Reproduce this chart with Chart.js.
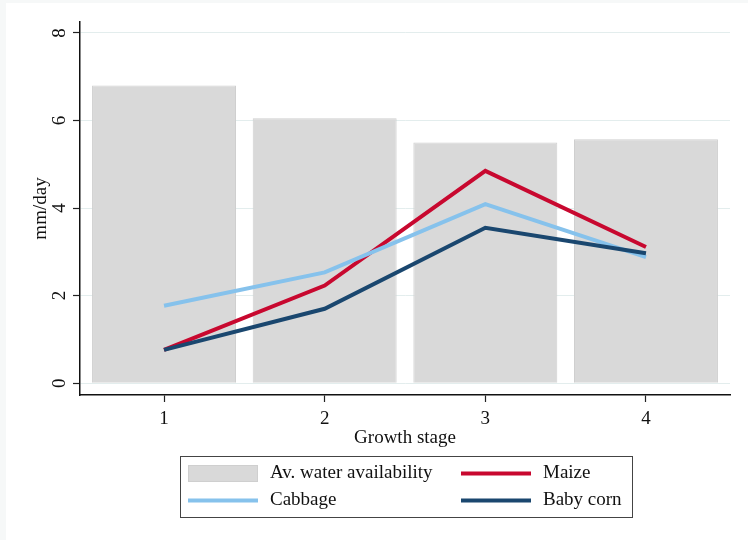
<!DOCTYPE html>
<html>
<head>
<meta charset="utf-8">
<script src="https://cdn.jsdelivr.net/npm/chart.js@4.4.1/dist/chart.umd.min.js"></script>
<style>
  html, body { margin: 0; padding: 0; background: #f6f8f8; }
  #wrap { position: absolute; left: 6px; top: 3px; width: 742px; height: 537px; background: #ffffff; }
  canvas { display: block; }
</style>
</head>
<body>
<div id="wrap"><canvas id="chart" width="742" height="537"></canvas></div>
<script>
// Growth stages and daily water figures (mm/day)
const stages = [1, 2, 3, 4];
const waterAvailability = [6.80, 6.05, 5.50, 5.57];
const maize = [0.76, 2.23, 4.85, 3.11];
const cabbage = [1.77, 2.53, 4.09, 2.88];
const babyCorn = [0.76, 1.70, 3.55, 2.97];
const yTickLabels = [0, 2, 4, 6, 8];

const FONT = '"Liberation Serif", "Times New Roman", serif';
const FONT_SIZE = 19;
const TEXT = '#111111';

const toXY = vals => stages.map((s, i) => ({ x: s, y: vals[i] }));

// Draws the rotated y tick labels, axis titles and the framed two-column key
const decorations = {
  id: 'decorations',
  afterDraw(chart) {
    const ctx = chart.ctx;
    const y = chart.scales.y;
    const area = chart.chartArea;
    ctx.save();
    ctx.fillStyle = TEXT;
    ctx.font = FONT_SIZE + 'px ' + FONT;
    ctx.textAlign = 'center';
    ctx.textBaseline = 'middle';

    // y tick labels, read bottom-to-top
    yTickLabels.forEach(v => {
      ctx.save();
      ctx.translate(54, y.getPixelForValue(v));
      ctx.rotate(-Math.PI / 2);
      ctx.fillText(String(v), 0, 0);
      ctx.restore();
    });

    // y axis title
    ctx.save();
    ctx.translate(35, (area.top + area.bottom) / 2);
    ctx.rotate(-Math.PI / 2);
    ctx.fillText('mm/day', 0, 0);
    ctx.restore();

    // x axis title
    ctx.fillText('Growth stage', (area.left + area.right) / 2, 435);

    // key
    const box = { left: 174, top: 453, width: 452, height: 61 };
    ctx.strokeStyle = '#444444';
    ctx.lineWidth = 1;
    ctx.strokeRect(box.left + 0.5, box.top + 0.5, box.width, box.height);

    const cols = [182, 455];
    const rows = [470.5, 497.5];
    const swatchW = 70;
    ctx.textAlign = 'left';
    chart.data.datasets.forEach((ds, i) => {
      const cx = cols[i % 2];
      const cy = rows[Math.floor(i / 2)];
      if (ds.type === 'bar') {
        ctx.fillStyle = ds.backgroundColor;
        ctx.fillRect(cx, cy - 8.5, swatchW, 17);
        ctx.strokeStyle = ds.borderColor;
        ctx.strokeRect(cx + 0.5, cy - 8, swatchW - 1, 16);
      } else {
        ctx.strokeStyle = ds.borderColor;
        ctx.lineWidth = 4;
        ctx.beginPath();
        ctx.moveTo(cx, cy);
        ctx.lineTo(cx + swatchW, cy);
        ctx.stroke();
        ctx.lineWidth = 1;
      }
      ctx.fillStyle = TEXT;
      ctx.fillText(ds.label, cx + 82, cy);
    });
    ctx.restore();
  }
};

new Chart(document.getElementById('chart'), {
  data: {
    datasets: [
      {
        type: 'bar',
        label: 'Av. water availability',
        data: toXY(waterAvailability),
        backgroundColor: '#d9d9d9',
        borderColor: '#cfcfcf',
        borderWidth: 1,
        categoryPercentage: 1,
        barPercentage: 0.896,
        order: 4
      },
      {
        type: 'line',
        label: 'Maize',
        data: toXY(maize),
        borderColor: '#c8082f',
        borderWidth: 4,
        pointRadius: 0,
        tension: 0,
        order: 3
      },
      {
        type: 'line',
        label: 'Cabbage',
        data: toXY(cabbage),
        borderColor: '#86c2ec',
        borderWidth: 4,
        pointRadius: 0,
        tension: 0,
        order: 2
      },
      {
        type: 'line',
        label: 'Baby corn',
        data: toXY(babyCorn),
        borderColor: '#1a476f',
        borderWidth: 4,
        pointRadius: 0,
        tension: 0,
        order: 1
      }
    ]
  },
  options: {
    responsive: false,
    animation: false,
    layout: { padding: { left: 0, right: 18, top: 19, bottom: 0 } },
    plugins: { legend: { display: false }, tooltip: { enabled: false } },
    scales: {
      x: {
        type: 'linear',
        min: 0.477,
        max: 4.523,
        offset: false,
        afterBuildTicks: s => { s.ticks = stages.map(v => ({ value: v })); },
        afterFit: s => { s.height = 145; },
        ticks: { color: TEXT, font: { family: FONT, size: FONT_SIZE }, padding: 6 },
        grid: { offset: false, drawOnChartArea: false, tickLength: 7, tickColor: '#222222', tickWidth: 1.2 },
        border: { display: true, color: '#111111', width: 1.5 }
      },
      y: {
        min: -0.27,
        max: 8.25,
        afterBuildTicks: s => { s.ticks = yTickLabels.map(v => ({ value: v })); },
        afterFit: s => { s.width = 74; },
        ticks: { display: false },
        grid: { color: '#e3eded', lineWidth: 1, tickLength: 7, tickColor: '#222222', tickWidth: 1.2 },
        border: { display: true, color: '#111111', width: 1.5 }
      }
    }
  },
  plugins: [decorations]
});
</script>
</body>
</html>
